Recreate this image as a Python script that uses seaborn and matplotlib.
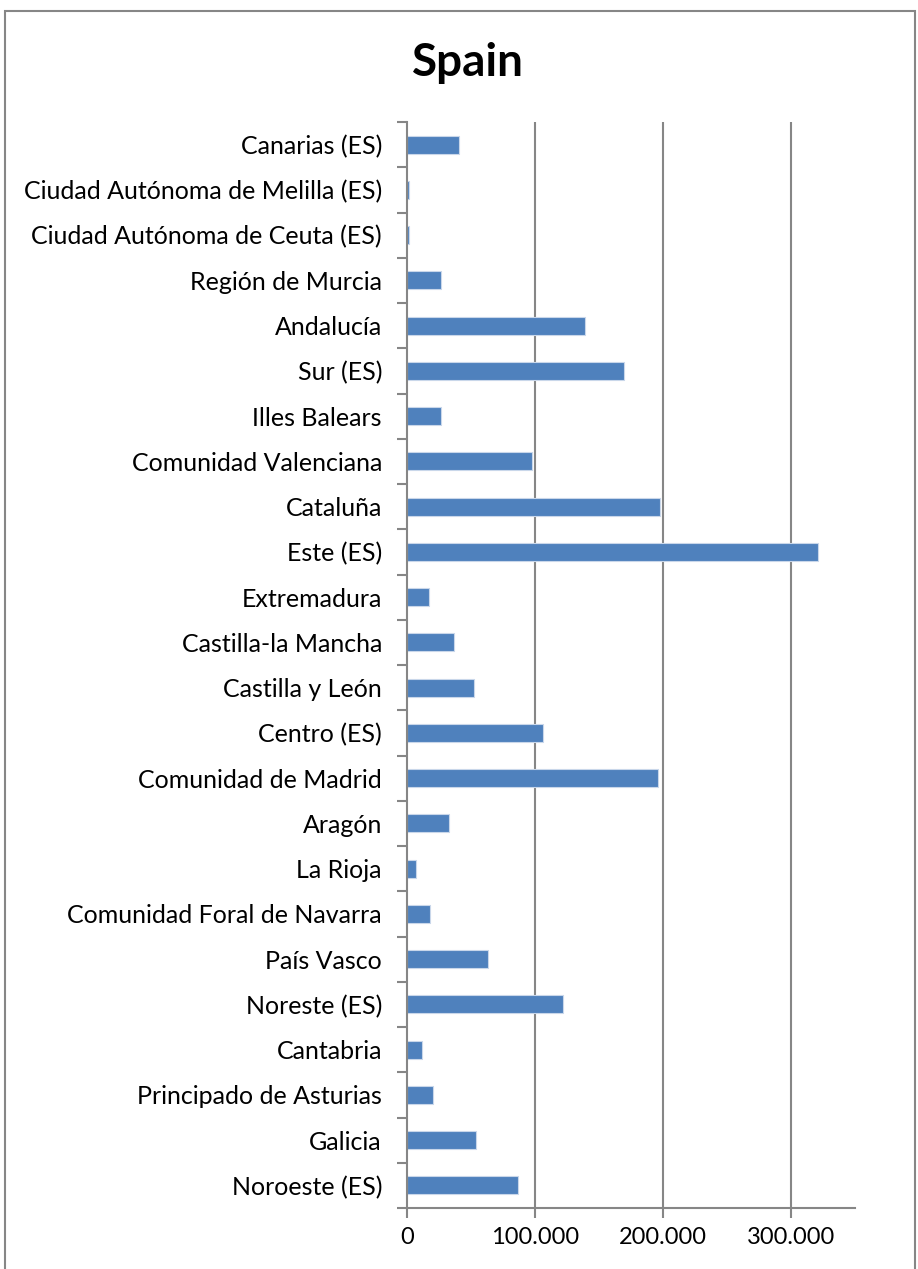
import seaborn as sns
import matplotlib.pyplot as plt
import matplotlib.patches as mpatches
from matplotlib.ticker import FuncFormatter, FixedLocator
import pandas as pd

# regions, top to bottom as shown in the chart
regions = [
    "Canarias (ES)", "Ciudad Autónoma de Melilla (ES)", "Ciudad Autónoma de Ceuta (ES)",
    "Región de Murcia", "Andalucía", "Sur (ES)", "Illes Balears",
    "Comunidad Valenciana", "Cataluña", "Este (ES)", "Extremadura",
    "Castilla-la Mancha", "Castilla y León", "Centro (ES)", "Comunidad de Madrid",
    "Aragón", "La Rioja", "Comunidad Foral de Navarra", "País Vasco",
    "Noreste (ES)", "Cantabria", "Principado de Asturias", "Galicia", "Noroeste (ES)",
]
values = [
    40600, 1500, 1400,
    26600, 139000, 169500, 26600,
    97700, 197700, 321000, 17000,
    36700, 52300, 106000, 196000,
    32800, 7300, 17800, 63300,
    121500, 11700, 20300, 54000, 86600,
]
x_ticks = [0, 100000, 200000, 300000]

df = pd.DataFrame({"region": regions, "value": values})

sns.set_style("white")
plt.rcParams["font.family"] = ["Lato", "DejaVu Sans"]
plt.rcParams["text.color"] = "black"

fig = plt.figure(figsize=(9.18, 12.69), dpi=100)
ax = fig.add_axes([407 / 918, 1 - 1208 / 1269, 448 / 918, 1086 / 1269])

grey = "#868686"
sns.barplot(data=df, x="value", y="region", orient="h", color="#4F81BD",
            width=0.4, edgecolor="#C9D7EA", linewidth=0.8, saturation=1, ax=ax)

ax.set_xlim(0, 350000)
ax.set_ylim(len(regions) - 0.5, -0.5)
ax.set_xlabel("")
ax.set_ylabel("")

# vertical gridlines
for v in x_ticks[1:]:
    ax.axvline(v, color=grey, lw=1.5, zorder=0)

ax.xaxis.set_major_locator(FixedLocator(x_ticks))
ax.xaxis.set_major_formatter(FuncFormatter(lambda v, p: f"{int(v):,}".replace(",", ".")))
ax.tick_params(axis="x", length=7, width=1.5, color=grey, labelsize=17,
               pad=7, labelcolor="black", direction="out", bottom=True)

# category labels centred, tick marks on boundaries
ax.tick_params(axis="y", which="major", length=0, labelsize=18, pad=18, labelcolor="black")
ax.yaxis.set_minor_locator(FixedLocator([i - 0.5 for i in range(len(regions) + 1)]))
ax.tick_params(axis="y", which="minor", length=7, width=1.5, color=grey, left=True, direction="out")

for s in ["top", "right"]:
    ax.spines[s].set_visible(False)
for s in ["left", "bottom"]:
    ax.spines[s].set_color(grey)
    ax.spines[s].set_linewidth(1.5)

fig.text(468 / 918, 1 - 63 / 1269, "Spain", ha="center", va="center",
         fontsize=33, fontweight="bold", color="black")

# chart frame
fig.patches.append(mpatches.Rectangle((5 / 918, -0.05), 910 / 918, 1.05 - 11 / 1269,
                                      transform=fig.transFigure, fill=False,
                                      edgecolor=grey, lw=1.5))

fig.savefig("out.png", dpi=100)
